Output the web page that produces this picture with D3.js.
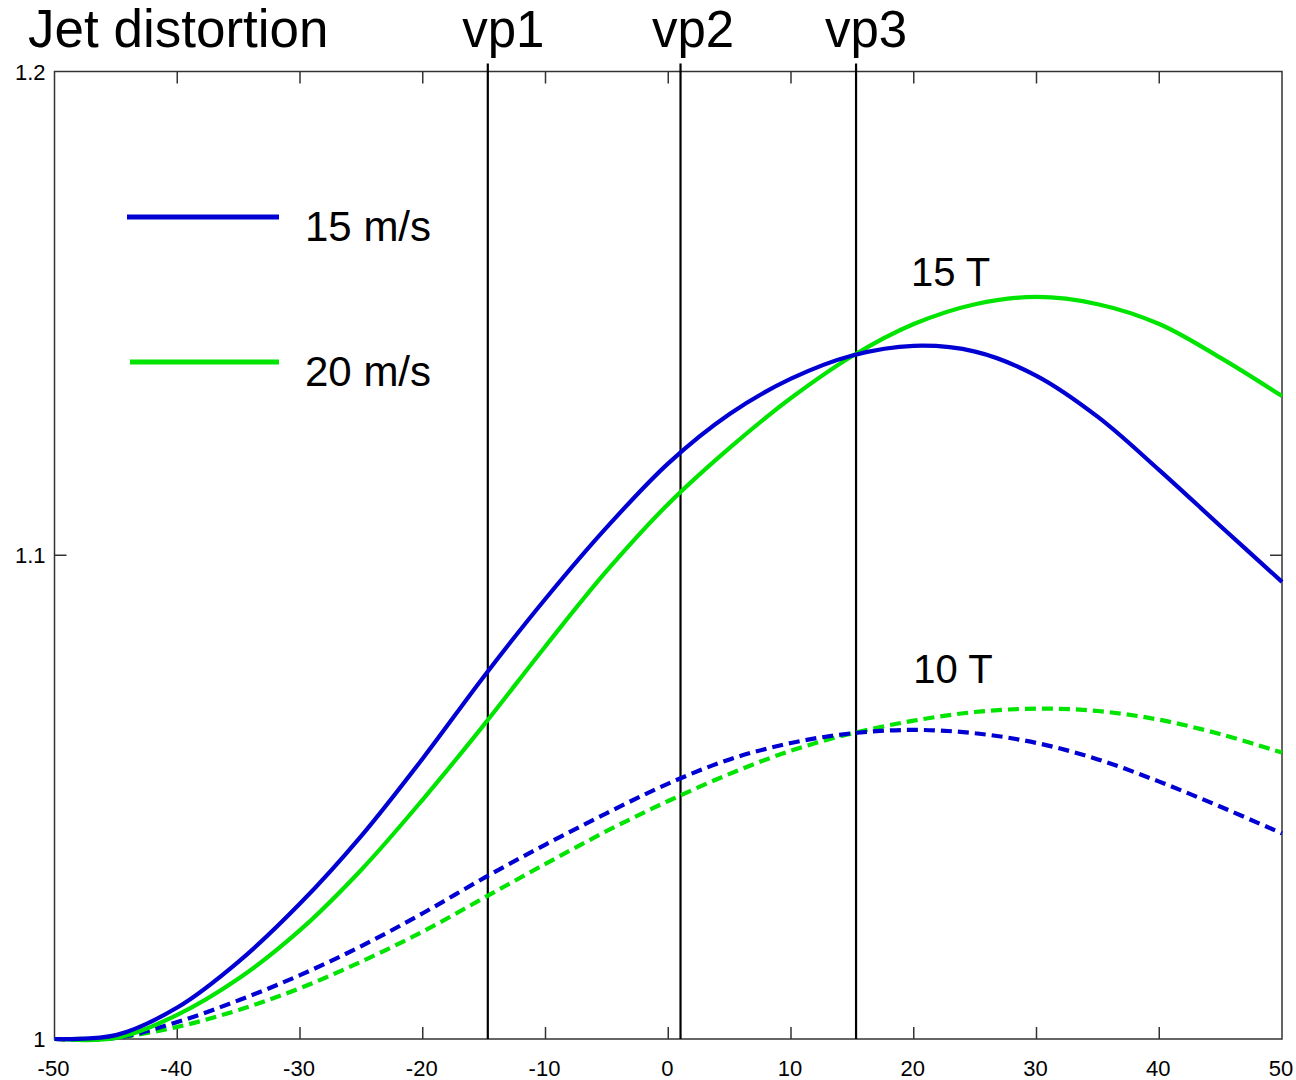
<!DOCTYPE html>
<html><head><meta charset="utf-8">
<script src="https://cdn.jsdelivr.net/npm/d3@7"></script>
<style>html,body{margin:0;padding:0;background:#fff;} svg{display:block;font-family:"Liberation Sans",Arial,sans-serif;}</style>
</head><body>
<script>
const xValues = [-50,-45,-40,-35,-30,-25,-20,-15,-10,-5,0,5,10,15,20,25,30,35,40,45,50];
const blue15T = [1.0,1.0008,1.0065,1.0160,1.0280,1.0420,1.0580,1.0750,1.0910,1.1058,1.1190,1.1292,1.1365,1.1413,1.1433,1.1421,1.1371,1.1286,1.1176,1.1060,1.0945];
const green15T = [1.0,1.0002,1.0050,1.0125,1.0225,1.0350,1.0495,1.0650,1.0812,1.0968,1.1106,1.1222,1.1325,1.1412,1.1478,1.1519,1.1534,1.1519,1.1478,1.1408,1.1329];
const blue10T = [1.0,1.0002,1.0035,1.0080,1.0132,1.0192,1.0260,1.0333,1.0402,1.0467,1.0528,1.0578,1.0612,1.0632,1.0639,1.0632,1.0612,1.0578,1.0532,1.0480,1.0425];
const green10T = [1.0,1.0003,1.0025,1.0060,1.0105,1.0160,1.0222,1.0292,1.0362,1.0430,1.0492,1.0548,1.0596,1.0632,1.0658,1.0676,1.0683,1.0678,1.0660,1.0630,1.0592];
const xTicks = [-50,-40,-30,-20,-10,0,10,20,30,40,50];
const yTicks = [1,1.1,1.2];
const yTickLabels = ["1","1.1","1.2"];
const vpPositions = [-14.7,1,15.3];
const vpLabels = ["vp1","vp2","vp3"];
const legendLabels = ["15 m/s","20 m/s"];
const fieldLabels = [{text:"15 T", x:23, y:1.1556},{text:"10 T", x:23.2, y:1.0735}];

const W=1296,H=1080;
const L=54.5,R=1282,T=71.5,B=1039;
const blue="#0000d2", green="#00e400";

const svg=d3.select("body").append("svg").attr("width",W).attr("height",H);
const x=d3.scaleLinear().domain([-50,50]).range([L,R]);
const y=d3.scaleLinear().domain([1,1.2]).range([B,T]);

// frame
svg.append("rect").attr("x",L).attr("y",T).attr("width",R-L).attr("height",B-T)
  .attr("fill","none").attr("stroke","#333").attr("stroke-width",1.5);

// ticks (inward)
const tk=12;
const inner = xTicks.filter(d=>d>-50&&d<50);
svg.append("g").selectAll("line").data(inner).join("line")
  .attr("x1",d=>x(d)).attr("x2",d=>x(d)).attr("y1",B).attr("y2",B-tk).attr("stroke","#333").attr("stroke-width",1.5);
svg.append("g").selectAll("line").data(inner).join("line")
  .attr("x1",d=>x(d)).attr("x2",d=>x(d)).attr("y1",T).attr("y2",T+tk).attr("stroke","#333").attr("stroke-width",1.5);
const yin = yTicks.filter(d=>d>1&&d<1.2);
svg.append("g").selectAll("line").data(yin).join("line")
  .attr("x1",L).attr("x2",L+tk).attr("y1",d=>y(d)).attr("y2",d=>y(d)).attr("stroke","#333").attr("stroke-width",1.5);
svg.append("g").selectAll("line").data(yin).join("line")
  .attr("x1",R).attr("x2",R-tk).attr("y1",d=>y(d)).attr("y2",d=>y(d)).attr("stroke","#333").attr("stroke-width",1.5);

// tick labels
svg.append("g").selectAll("text").data(xTicks).join("text")
  .attr("x",d=>x(d)-1).attr("y",B+37).attr("text-anchor","middle")
  .attr("font-size",22).attr("fill","#000").text(d=>d);
svg.append("g").selectAll("text").data(yTicks).join("text")
  .attr("x",L-9).attr("y",d=>y(d)+8).attr("text-anchor","end")
  .attr("font-size",22).attr("fill","#000").text((d,i)=>yTickLabels[i]);

// vertical lines
svg.append("g").selectAll("line").data(vpPositions).join("line")
  .attr("x1",d=>x(d)).attr("x2",d=>x(d)).attr("y1",T-8).attr("y2",B)
  .attr("stroke","#000").attr("stroke-width",2.2);
const vpOffsets=[15.5,12.5,10];
svg.append("g").selectAll("text").data(vpPositions).join("text")
  .attr("x",(d,i)=>x(d)+vpOffsets[i]).attr("y",47).attr("text-anchor","middle")
  .attr("font-size",51).attr("fill","#000").text((d,i)=>vpLabels[i]);

// title
svg.append("text").attr("x",28).attr("y",47).attr("font-size",53).attr("fill","#000").text("Jet distortion");

// curves
const line=d3.line().x(d=>x(d[0])).y(d=>y(d[1])).curve(d3.curveCatmullRom.alpha(0.5));
const series=[
  {v:green10T,c:green,dash:"11,6"},
  {v:blue10T,c:blue,dash:"11,6"},
  {v:green15T,c:green,dash:null},
  {v:blue15T,c:blue,dash:null}
];
series.forEach(s=>{
  svg.append("path").datum(xValues.map((xv,i)=>[xv,s.v[i]]))
    .attr("d",line).attr("fill","none").attr("stroke",s.c).attr("stroke-width",4.2)
    .attr("stroke-dasharray",s.dash);
});

// legend
const leg=[{c:blue,y:217,x1:127},{c:green,y:362,x1:130}];
leg.forEach((l,i)=>{
  svg.append("line").attr("x1",l.x1).attr("x2",279).attr("y1",l.y).attr("y2",l.y)
    .attr("stroke",l.c).attr("stroke-width",5);
  svg.append("text").attr("x",305).attr("y",l.y+24).attr("font-size",42).attr("fill","#000").text(legendLabels[i]);
});

// field labels
svg.append("g").selectAll("text").data(fieldLabels).join("text")
  .attr("x",d=>x(d.x)).attr("y",d=>y(d.y)).attr("text-anchor","middle")
  .attr("font-size",40).attr("fill","#000").text(d=>d.text);
</script>
</body></html>
